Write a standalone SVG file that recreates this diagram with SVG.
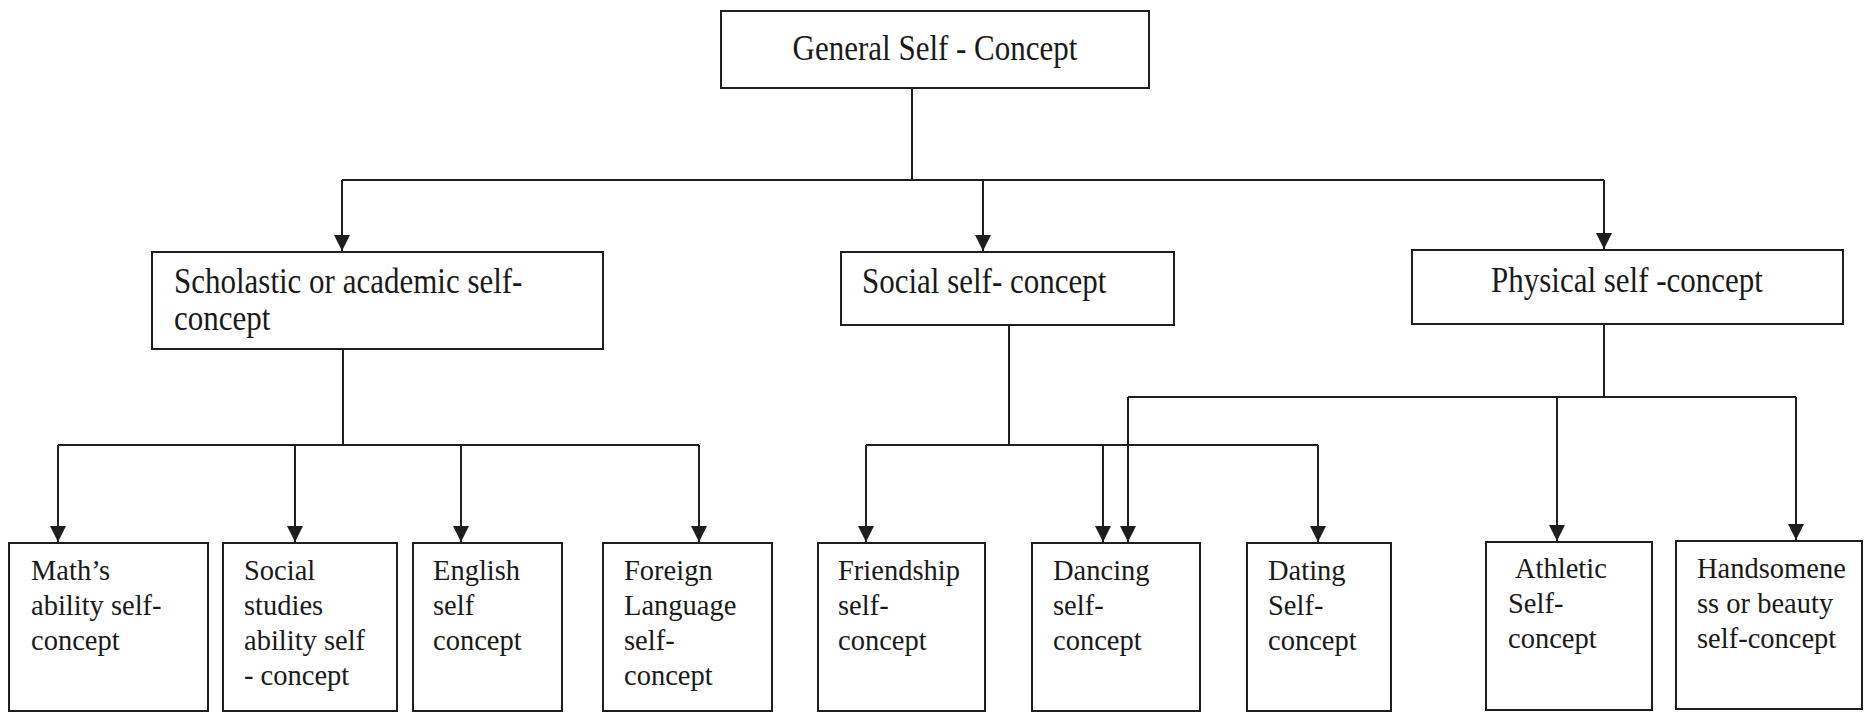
<svg xmlns="http://www.w3.org/2000/svg" width="1866" height="714" viewBox="0 0 1866 714">
<style>
.box{fill:#fff;stroke:#1e1e1e;stroke-width:2}
.ln{fill:none;stroke:#1e1e1e;stroke-width:2}
.t{font-family:"Liberation Serif","Times New Roman",serif;fill:#1a1a1a}
.big{font-size:31px}
.sm{font-size:28.5px}
</style>
<defs>
<marker id="ah" markerUnits="userSpaceOnUse" markerWidth="18" markerHeight="16" refX="16" refY="8" orient="auto" viewBox="0 0 18 16">
<path d="M0,0 L16,8 L0,16 z" fill="#1e1e1e"/>
</marker>
</defs>
<rect width="1866" height="714" fill="#fff"/>
<g id="connectors">
<path class="ln" d="M912,88 V180 M342,180 H1604"/>
<path class="ln" d="M342,180 V251" marker-end="url(#ah)"/>
<path class="ln" d="M983,180 V251" marker-end="url(#ah)"/>
<path class="ln" d="M1604,180 V249" marker-end="url(#ah)"/>
<path class="ln" d="M343,349 V445 M58,445 H699"/>
<path class="ln" d="M58,445 V542" marker-end="url(#ah)"/>
<path class="ln" d="M295,445 V542" marker-end="url(#ah)"/>
<path class="ln" d="M461,445 V542" marker-end="url(#ah)"/>
<path class="ln" d="M699,445 V542" marker-end="url(#ah)"/>
<path class="ln" d="M1009,325 V445 M866,445 H1318"/>
<path class="ln" d="M866,445 V542" marker-end="url(#ah)"/>
<path class="ln" d="M1103,445 V542" marker-end="url(#ah)"/>
<path class="ln" d="M1318,445 V542" marker-end="url(#ah)"/>
<path class="ln" d="M1604,324 V397 M1128,397 H1796"/>
<path class="ln" d="M1128,397 V542" marker-end="url(#ah)"/>
<path class="ln" d="M1557,397 V541" marker-end="url(#ah)"/>
<path class="ln" d="M1796,397 V540" marker-end="url(#ah)"/>
</g>
<g id="general">
<rect class="box" x="721" y="11" width="428" height="77"/>
<text class="t big" x="935" y="60" text-anchor="middle" transform="matrix(1 0 0 1.18 0 -10.8)">General Self - Concept</text>
</g>
<g id="scholastic">
<rect class="box" x="152" y="252" width="451" height="97"/>
<text class="t big" x="174" y="293" transform="matrix(1 0 0 1.18 0 -52.74)">Scholastic or academic self-</text>
<text class="t big" x="174" y="330" transform="matrix(1 0 0 1.18 0 -59.4)">concept</text>
</g>
<g id="social">
<rect class="box" x="841" y="252" width="333" height="73"/>
<text class="t big" x="862" y="293" transform="matrix(1 0 0 1.18 0 -52.74)">Social self- concept</text>
</g>
<g id="physical">
<rect class="box" x="1412" y="250" width="431" height="74"/>
<text class="t big" x="1627" y="292" text-anchor="middle" transform="matrix(1 0 0 1.18 0 -52.56)">Physical self -concept</text>
</g>
<g id="math">
<rect class="box" x="9" y="543" width="199" height="168"/>
<text class="t sm" x="31" y="580">Math’s</text>
<text class="t sm" x="31" y="615">ability self-</text>
<text class="t sm" x="31" y="650">concept</text>
</g>
<g id="socialstudies">
<rect class="box" x="223" y="543" width="174" height="168"/>
<text class="t sm" x="244" y="580">Social</text>
<text class="t sm" x="244" y="615">studies</text>
<text class="t sm" x="244" y="650">ability self</text>
<text class="t sm" x="244" y="685">- concept</text>
</g>
<g id="english">
<rect class="box" x="413" y="543" width="149" height="168"/>
<text class="t sm" x="433" y="580">English</text>
<text class="t sm" x="433" y="615">self</text>
<text class="t sm" x="433" y="650">concept</text>
</g>
<g id="foreign">
<rect class="box" x="603" y="543" width="169" height="168"/>
<text class="t sm" x="624" y="580">Foreign</text>
<text class="t sm" x="624" y="615">Language</text>
<text class="t sm" x="624" y="650">self-</text>
<text class="t sm" x="624" y="685">concept</text>
</g>
<g id="friendship">
<rect class="box" x="818" y="543" width="167" height="168"/>
<text class="t sm" x="838" y="580">Friendship</text>
<text class="t sm" x="838" y="615">self-</text>
<text class="t sm" x="838" y="650">concept</text>
</g>
<g id="dancing">
<rect class="box" x="1032" y="543" width="168" height="168"/>
<text class="t sm" x="1053" y="580">Dancing</text>
<text class="t sm" x="1053" y="615">self-</text>
<text class="t sm" x="1053" y="650">concept</text>
</g>
<g id="dating">
<rect class="box" x="1247" y="543" width="144" height="168"/>
<text class="t sm" x="1268" y="580">Dating</text>
<text class="t sm" x="1268" y="615">Self-</text>
<text class="t sm" x="1268" y="650">concept</text>
</g>
<g id="athletic">
<rect class="box" x="1486" y="542" width="166" height="168"/>
<text class="t sm" x="1515" y="578">Athletic</text>
<text class="t sm" x="1508" y="613">Self-</text>
<text class="t sm" x="1508" y="648">concept</text>
</g>
<g id="handsomeness">
<rect class="box" x="1676" y="541" width="186" height="168"/>
<text class="t sm" x="1697" y="578">Handsomene</text>
<text class="t sm" x="1697" y="613">ss or beauty</text>
<text class="t sm" x="1697" y="648">self-concept</text>
</g>
</svg>
